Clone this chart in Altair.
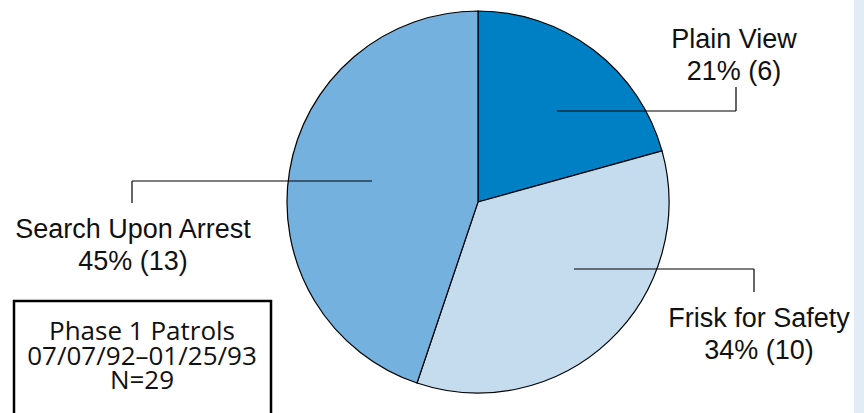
import altair as alt
import pandas as pd

# ---- data ----
categories = ["Plain View", "Frisk for Safety", "Search Upon Arrest"]
counts = [6, 10, 13]
percents = ["21%", "34%", "45%"]
colors = ["#0080c4", "#c5dcef", "#75b1de"]
box_lines = ["Phase 1 Patrols", "07/07/92\u201301/25/93", "N=29"]

W, H = 864, 413

pie_df = pd.DataFrame({"cat": categories, "n": counts, "order": list(range(len(categories)))})

# ---- layout (annotation positions, pixels) ----
cx, cy, R = 478, 202, 191
label_pos = {  # center x, first baseline y
    "Plain View": (734, 48),
    "Frisk for Safety": (759, 327),
    "Search Upon Arrest": (133, 238),
}
leaders = {  # (x_start, y_h, x_end, y_end_vertical)
    "Plain View": (557, 111, 736, 87),
    "Frisk for Safety": (574, 269, 754, 292),
    "Search Upon Arrest": (372, 181, 132, 203),
}

rows_text = []
for c, n, p in zip(categories, counts, percents):
    x, y = label_pos[c]
    rows_text.append({"t": c, "x": x, "y": y})
    rows_text.append({"t": f"{p} ({n})", "x": x, "y": y + 32})
text_df = pd.DataFrame(rows_text)

seg_rows = []
for c in categories:
    xs_, yh, xe, ye = leaders[c]
    seg_rows.append({"x": xs_, "y": yh, "x2": xe, "y2": yh})
    seg_rows.append({"x": xe, "y": yh, "x2": xe, "y2": ye})
seg_df = pd.DataFrame(seg_rows)

box_df = pd.DataFrame({"t": box_lines, "x": [142] * 3, "y": [340, 365, 389]})

xs = alt.Scale(domain=[0, W], range=[0, W])
ys = alt.Scale(domain=[0, H], range=[0, H])

one = pd.DataFrame({"a": [0]})

strip = alt.Chart(one).mark_rect(color="#e1ecf7").encode(
    x=alt.value(854), x2=alt.value(W), y=alt.value(0), y2=alt.value(H)
)

pie = alt.Chart(pie_df).mark_arc(outerRadius=R, stroke="black", strokeWidth=1.2).encode(
    theta=alt.Theta("n:Q", stack=True),
    order=alt.Order("order:Q"),
    color=alt.Color("cat:N", scale=alt.Scale(domain=categories, range=colors), legend=None),
    x=alt.value(cx), y=alt.value(cy),
)

segs = alt.Chart(seg_df).mark_rule(color="black", strokeWidth=1.2).encode(
    x=alt.X("x:Q", scale=xs, axis=None),
    y=alt.Y("y:Q", scale=ys, axis=None),
    x2="x2:Q", y2="y2:Q",
)

labels = alt.Chart(text_df).mark_text(
    font="Liberation Sans", fontSize=27, color="#111111", align="center", baseline="alphabetic"
).encode(
    x=alt.X("x:Q", scale=xs, axis=None),
    y=alt.Y("y:Q", scale=ys, axis=None),
    text="t:N",
)

box = alt.Chart(one).mark_rect(fill="white", stroke="black", strokeWidth=2.5).encode(
    x=alt.value(14), x2=alt.value(271), y=alt.value(301), y2=alt.value(440)
)

box_text = alt.Chart(box_df).mark_text(
    font="Open Sans", fontSize=26, color="#111111", align="center", baseline="alphabetic"
).encode(
    x=alt.X("x:Q", scale=xs, axis=None),
    y=alt.Y("y:Q", scale=ys, axis=None),
    text="t:N",
)

chart = alt.layer(strip, pie, segs, labels, box, box_text).properties(
    width=W, height=H, autosize="none", padding=0, background="white"
).configure_view(stroke=None)

chart.save("out.html", embed_options={"renderer": "svg", "actions": False})
